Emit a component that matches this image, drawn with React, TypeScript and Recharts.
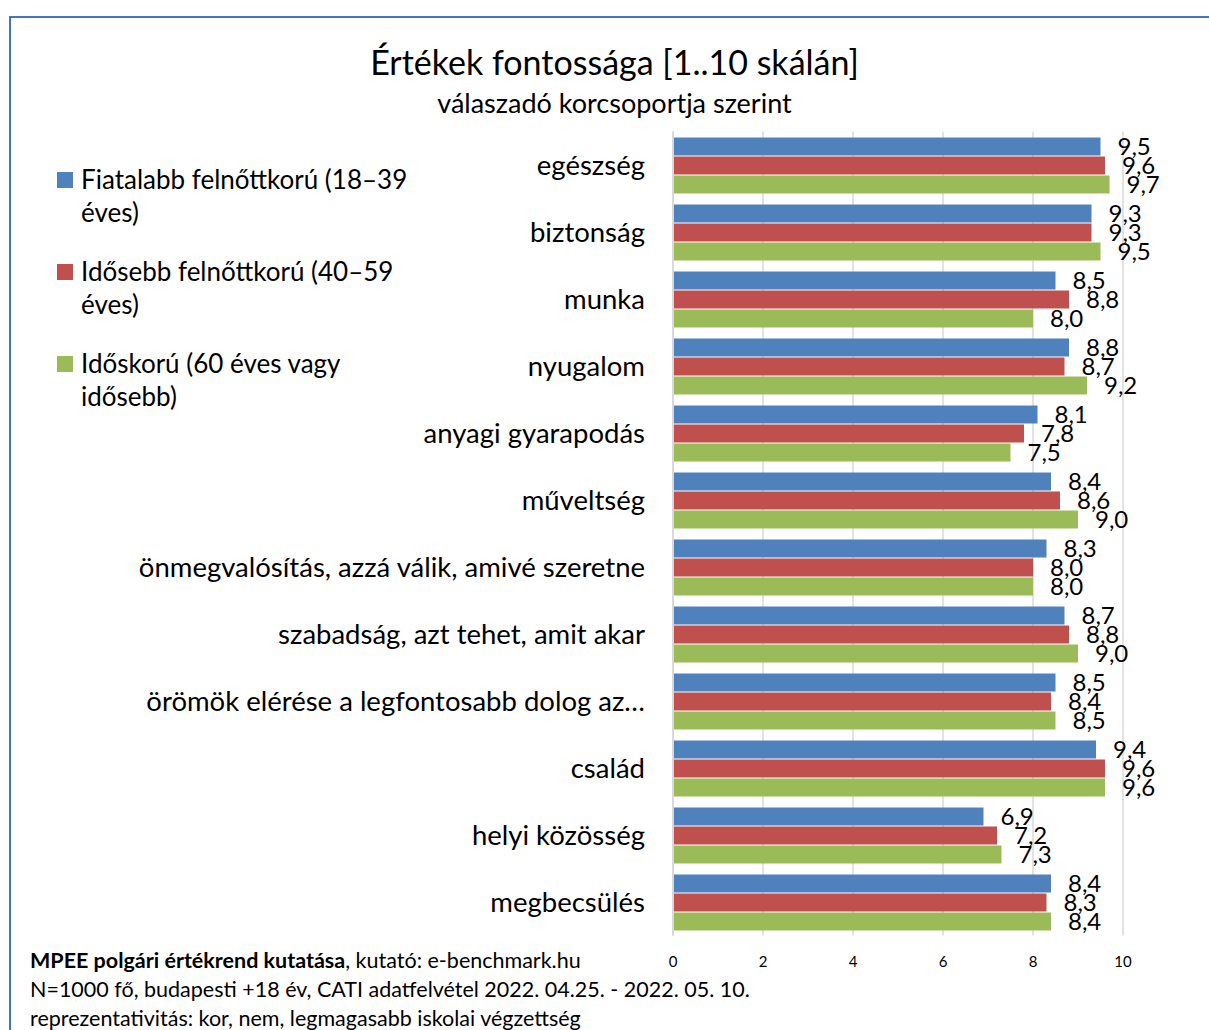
import React from "react"
import { Bar, BarChart, CartesianGrid, LabelList, XAxis, YAxis } from "recharts"

const categories = [
  "egészség",
  "biztonság",
  "munka",
  "nyugalom",
  "anyagi gyarapodás",
  "műveltség",
  "önmegvalósítás, azzá válik, amivé szeretne",
  "szabadság, azt tehet, amit akar",
  "örömök elérése a legfontosabb dolog az…",
  "család",
  "helyi közösség",
  "megbecsülés",
]

const young = [9.5, 9.3, 8.5, 8.8, 8.1, 8.4, 8.3, 8.7, 8.5, 9.4, 6.9, 8.4]
const middle = [9.6, 9.3, 8.8, 8.7, 7.8, 8.6, 8.0, 8.8, 8.4, 9.6, 7.2, 8.3]
const old = [9.7, 9.5, 8.0, 9.2, 7.5, 9.0, 8.0, 9.0, 8.5, 9.6, 7.3, 8.4]

const xTicks = [0, 2, 4, 6, 8, 10]

const series = [
  { key: "young", name: "Fiatalabb felnőttkorú (18–39 éves)", color: "#4F81BD", values: young },
  { key: "middle", name: "Idősebb felnőttkorú (40–59 éves)", color: "#C0504D", values: middle },
  { key: "old", name: "Időskorú (60 éves vagy idősebb)", color: "#9BBB59", values: old },
]

const data = categories.map((name, i) => {
  const row: Record<string, string | number> = { name }
  series.forEach((s) => {
    row[s.key] = s.values[i]
  })
  return row
})

const font = "Lato, 'Open Sans', sans-serif"
const fmt = (v: any) => Number(v).toFixed(1).replace(".", ",")

// legend sits outside the svg so it does not eat plot space
function LegendBox() {
  return (
    <div style={{ fontFamily: font, fontSize: 26, color: "#000", lineHeight: "33px" }}>
      {series.map((s) => (
        <div key={s.key} style={{ display: "flex", alignItems: "flex-start", marginBottom: 26 }}>
          <div style={{ width: 16, height: 16, background: s.color, marginTop: 9, marginRight: 8, flexShrink: 0 }} />
          <div style={{ width: 340 }}>{s.name}</div>
        </div>
      ))}
    </div>
  )
}

export default function App() {
  return (
    <div style={{ position: "fixed", left: 0, top: 0, width: 1209, height: 1030, background: "#fff", overflow: "hidden" }}>
      <div
        style={{
          position: "absolute",
          left: 9,
          top: 16,
          width: 1300,
          height: 1100,
          borderLeft: "2px solid #4472C4",
          borderTop: "2px solid #4472C4",
        }}
      />
      <div style={{ position: "absolute", left: 0, width: 1229, top: 41, textAlign: "center", fontFamily: font, fontSize: 34, color: "#000" }}>
        Értékek fontossága [1..10 skálán]
      </div>
      <div style={{ position: "absolute", left: 0, width: 1229, top: 86, textAlign: "center", fontFamily: font, fontSize: 27, color: "#000" }}>
        válaszadó korcsoportja szerint
      </div>

      <div style={{ position: "absolute", left: 0, top: 0 }}>
        <BarChart
          width={1209}
          height={1030}
          data={data}
          layout="vertical"
          margin={{ top: 131.5, right: 86, bottom: 54.5, left: 0 }}
          barSize={18}
          barGap={1}
        >
          <CartesianGrid horizontal={false} stroke="#d9d9d9" strokeWidth={1.5} />
          <XAxis
            type="number"
            domain={[0, 10]}
            ticks={xTicks}
            axisLine={false}
            tickLine={false}
            tickSize={0}
            tickMargin={21}
            height={40}
            tick={{ fontSize: 15, fill: "#000", fontFamily: font }}
          />
          <YAxis
            type="category"
            dataKey="name"
            width={673}
            axisLine={{ stroke: "#d9d9d9", strokeWidth: 2 }}
            tickLine={false}
            tickSize={0}
            tickMargin={28}
            interval={0}
            tick={{ fontSize: 27.5, fill: "#000", fontFamily: font }}
          />
          {series.map((s) => (
            <Bar key={s.key} dataKey={s.key} name={s.name} fill={s.color} isAnimationActive={false}>
              <LabelList
                dataKey={s.key}
                position="right"
                offset={17}
                formatter={fmt}
                style={{ fontSize: 24, fill: "#000", fontFamily: font }}
              />
            </Bar>
          ))}
        </BarChart>
      </div>

      <div style={{ position: "absolute", left: 57, top: 163 }}>
        <LegendBox />
      </div>

      <div style={{ position: "absolute", left: 30, top: 946, fontFamily: font, fontSize: 21.5, color: "#000", lineHeight: "29px" }}>
        <div>
          <b>MPEE polgári értékrend kutatása</b>, kutató: e-benchmark.hu
        </div>
        <div>N=1000 fő, budapesti +18 év, CATI adatfelvétel 2022. 04.25. - 2022. 05. 10.</div>
        <div>reprezentativitás: kor, nem, legmagasabb iskolai végzettség</div>
      </div>
    </div>
  )
}
